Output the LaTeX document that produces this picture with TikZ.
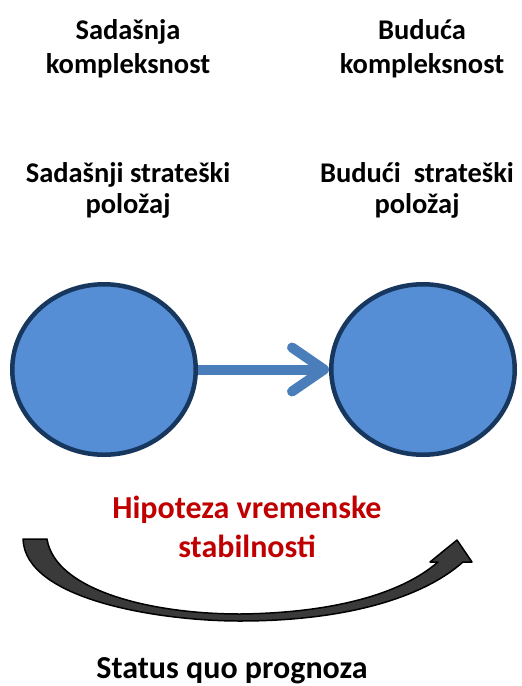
\documentclass[tikz,border=0pt]{standalone}
\usepackage{fontspec}
\setmainfont{Carlito}
\usetikzlibrary{arrows.meta}
\usetikzlibrary{shapes.geometric}

\definecolor{stateblue}{HTML}{558ED5}
\definecolor{statenavy}{HTML}{17375E}
\definecolor{flowblue}{HTML}{4A7EBB}
\definecolor{hypred}{HTML}{C00000}
\definecolor{swoopgray}{HTML}{3A3A3A}

\tikzset{
  label text/.style={align=center, font=\fontsize{28.5}{34}\selectfont\bfseries},
  hyp text/.style={align=center, text=hypred, font=\fontsize{32}{39.5}\selectfont\bfseries},
  state/.style={ellipse, draw=statenavy, fill=stateblue, line width=4.5pt,
                minimum width=183.5pt, minimum height=170.5pt, inner sep=0pt}
}

\begin{document}
\begin{tikzpicture}[x=1pt, y=-1pt]
      \useasboundingbox (0,0) rectangle (522,686);

      \node[label text] (nowcplx) at (128, 49) {Sadašnja\\kompleksnost};
      \node[label text] (futcplx) at (422, 49) {Buduća\\kompleksnost};
      \node[label text, font=\fontsize{28.5}{31}\selectfont\bfseries] (nowpos) at (128, 190) {Sadašnji strateški\\položaj};
      \node[label text, font=\fontsize{28.5}{31}\selectfont\bfseries] (futpos) at (417, 190) {Budući\ \ strateški\\položaj};

      \node[state] (now) at (104, 369.5) {};
      \node[state] (fut) at (423, 369.5) {};

      \draw[flowblue, line width=10pt, -{Straight Barb[length=32pt, width=44pt, round]}] (now) -- (fut);

      \node[hyp text] (hyp) at (247, 527) {Hipoteza vremenske\\stabilnosti};
      \node[hyp text, text=black, anchor=base] (quo) at (232, 678) {Status quo prognoza};

      % swoop under the hypothesis
      \coordinate (sl) at (23, 539);
      \coordinate (tip) at (457, 540);
      \fill[swoopgray, draw=black, line width=1.5pt, line join=round]
        (sl) .. controls (25, 600) and (160, 621) .. (240, 621)
        .. controls (340, 621) and (420, 600) .. (463, 562)
        -- (472, 562) -- (tip) -- (430, 562) -- (438, 562)
        .. controls (400, 595) and (330, 613) .. (240, 614)
        .. controls (150, 614) and (55, 590) .. (47, 539) -- cycle;
    \end{tikzpicture}
\end{document}
